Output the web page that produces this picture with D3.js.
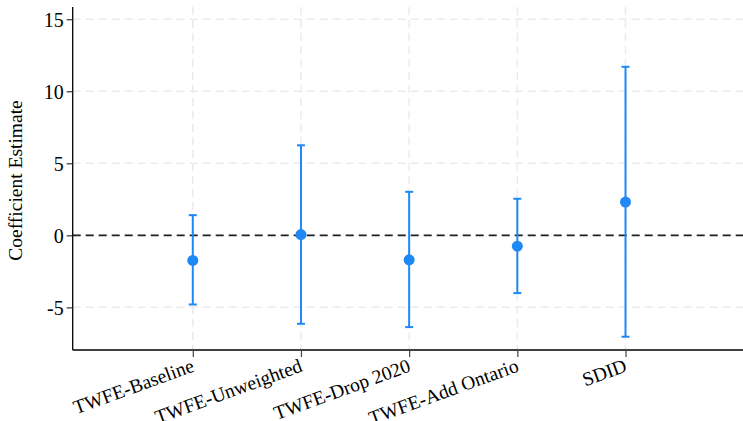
<!DOCTYPE html>
<html>
<head>
<meta charset="utf-8">
<script src="https://cdn.jsdelivr.net/npm/d3@7"></script>
<style>
  html, body { margin: 0; padding: 0; background: #fff; }
  svg { display: block; }
  text { font-family: "Liberation Serif", "Times New Roman", serif; }
</style>
</head>
<body>
<svg id="chart" width="743" height="421"></svg>
<script>
const categories = ["TWFE-Baseline", "TWFE-Unweighted", "TWFE-Drop 2020", "TWFE-Add Ontario", "SDID"];
const estimates = [-1.74, 0.05, -1.70, -0.75, 2.31];
const lowerCI = [-4.80, -6.14, -6.37, -4.01, -7.04];
const upperCI = [1.40, 6.25, 3.02, 2.54, 11.70];
const yTicks = [-5, 0, 5, 10, 15];
const yLabel = "Coefficient Estimate";

const svg = d3.select("#chart");
const mLeft = 72.7, mRight = 743, mTop = 7, mBottom = 350;

const x = d3.scaleLinear().domain([-1.11, 5.086]).range([mLeft, mRight]);
const y = d3.scaleLinear().domain([-7.96, 15.85]).range([mBottom, mTop]);

const idx = categories.map((c, i) => i);

// grid
const grid = svg.append("g");
grid.selectAll(".hg").data(yTicks).enter().append("line")
  .attr("x1", mLeft).attr("x2", mRight)
  .attr("y1", d => y(d)).attr("y2", d => y(d))
  .attr("stroke", "#ebebeb").attr("stroke-width", 1.5).attr("stroke-dasharray", "8,5");
grid.selectAll(".vg").data(idx).enter().append("line")
  .attr("x1", d => x(d)).attr("x2", d => x(d))
  .attr("y1", mTop).attr("y2", mBottom)
  .attr("stroke", "#ebebeb").attr("stroke-width", 1.5).attr("stroke-dasharray", "8,5");

// zero line
svg.append("line")
  .attr("x1", mLeft).attr("x2", mRight)
  .attr("y1", y(0)).attr("y2", y(0))
  .attr("stroke", "#222").attr("stroke-width", 1.6).attr("stroke-dasharray", "8,5");

// y axis
const yAxis = svg.append("g").attr("transform", `translate(${mLeft},0)`)
  .call(d3.axisLeft(y).tickValues(yTicks).tickSize(6).tickPadding(3).tickFormat(d3.format("d")));
yAxis.attr("font-size", 20);
yAxis.select(".domain").attr("d", `M0,${mTop}V${mBottom}`).attr("stroke", "#000").attr("stroke-width", 1.3);
yAxis.selectAll(".tick line").attr("stroke", "#333").attr("stroke-width", 1.2);
yAxis.selectAll(".tick text").attr("fill", "#000").attr("dy", "0.34em")
  .text(d => d < 0 ? "-" + Math.abs(d) : d);

// x axis
const xAxis = svg.append("g").attr("transform", `translate(0,${mBottom})`)
  .call(d3.axisBottom(x).tickValues(idx).tickSize(7).tickFormat(i => categories[i]));
xAxis.attr("font-size", 19.5);
xAxis.select(".domain").attr("d", `M${mLeft},0H${mRight}`).attr("stroke", "#000").attr("stroke-width", 1.3);
xAxis.selectAll(".tick line").attr("stroke", "#444").attr("stroke-width", 1.2);
xAxis.selectAll(".tick text")
  .attr("fill", "#000")
  .attr("text-anchor", "end")
  .attr("dy", null).attr("y", 0)
  .attr("transform", "translate(2,21) rotate(-20)");

// y label
svg.append("text")
  .attr("transform", `translate(22,${(mTop + mBottom) / 2 + 2}) rotate(-90)`)
  .attr("text-anchor", "middle")
  .attr("font-size", 19.5)
  .text(yLabel);

// error bars
const blue = "#1e88f5";
const eb = svg.append("g");
idx.forEach(i => {
  const cx = x(i);
  eb.append("line").attr("x1", cx).attr("x2", cx)
    .attr("y1", y(lowerCI[i])).attr("y2", y(upperCI[i]))
    .attr("stroke", blue).attr("stroke-width", 2);
  [lowerCI[i], upperCI[i]].forEach(v => {
    eb.append("line").attr("x1", cx - 4).attr("x2", cx + 4)
      .attr("y1", y(v)).attr("y2", y(v))
      .attr("stroke", blue).attr("stroke-width", 2);
  });
});
eb.selectAll("circle").data(idx).enter().append("circle")
  .attr("cx", d => x(d)).attr("cy", d => y(estimates[d]))
  .attr("r", 5.5).attr("fill", blue);
</script>
</body>
</html>
